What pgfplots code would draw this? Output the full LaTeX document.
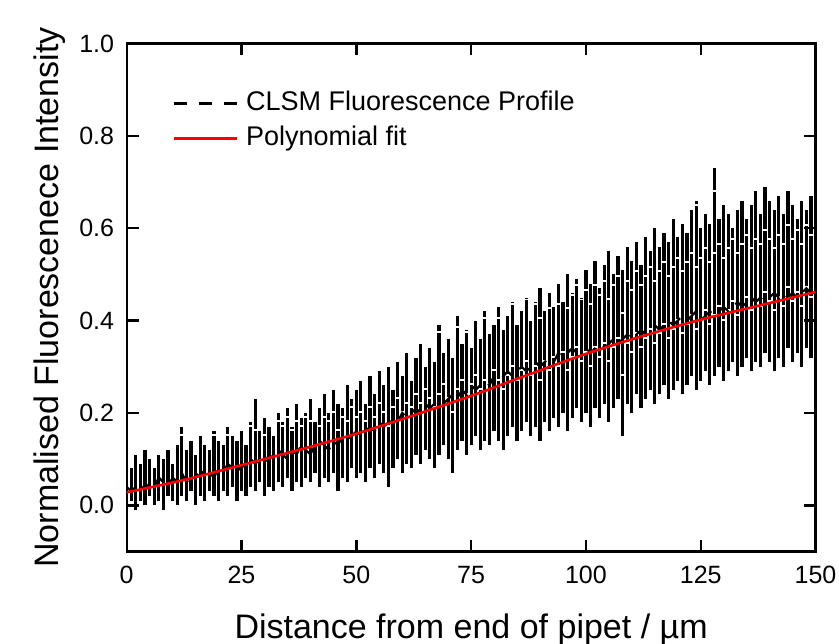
\documentclass[border=0pt]{standalone}
\usepackage{pgfplots}
\usepackage{pgfplotstable}
\pgfplotsset{compat=1.18}
\usepackage{fontspec}
\setmainfont{Liberation Sans}
\pgfplotstableread{
x L m H
0 0.00 0.04 0.10
1 0.01 0.03 0.08
2 -0.01 0.04 0.11
3 0.01 0.05 0.09
4 0.00 0.03 0.12
5 0.02 0.05 0.10
6 0.00 0.04 0.08
7 0.01 0.06 0.11
8 -0.01 0.05 0.10
9 0.02 0.04 0.12
10 0.01 0.06 0.09
11 0.00 0.05 0.13
12 0.02 0.07 0.17
13 0.01 0.05 0.12
14 0.03 0.06 0.14
15 0.00 0.07 0.11
16 0.02 0.06 0.15
17 0.01 0.08 0.13
18 0.03 0.07 0.12
19 0.02 0.06 0.16
20 0.01 0.08 0.14
21 0.03 0.07 0.13
22 0.02 0.09 0.17
23 0.04 0.08 0.15
24 0.01 0.07 0.14
25 0.03 0.09 0.16
26 0.02 0.08 0.13
27 0.04 0.10 0.18
28 0.03 0.09 0.23
29 0.05 0.10 0.16
30 0.02 0.09 0.19
31 0.04 0.11 0.17
32 0.03 0.10 0.15
33 0.05 0.12 0.20
34 0.04 0.11 0.18
35 0.06 0.10 0.21
36 0.03 0.12 0.17
37 0.05 0.11 0.22
38 0.04 0.13 0.19
39 0.06 0.12 0.20
40 0.05 0.11 0.23
41 0.07 0.13 0.18
42 0.04 0.14 0.21
43 0.06 0.13 0.24
44 0.05 0.12 0.20
45 0.07 0.14 0.25
46 0.03 0.13 0.22
47 0.06 0.15 0.21
48 0.05 0.14 0.26
49 0.08 0.15 0.23
50 0.06 0.16 0.25
51 0.07 0.15 0.27
52 0.05 0.16 0.22
53 0.08 0.17 0.28
54 0.06 0.16 0.24
55 0.09 0.18 0.29
56 0.07 0.17 0.26
57 0.04 0.18 0.30
58 0.08 0.19 0.25
59 0.10 0.18 0.31
60 0.07 0.20 0.28
61 0.09 0.19 0.33
62 0.08 0.20 0.27
63 0.11 0.21 0.32
64 0.09 0.20 0.35
65 0.12 0.22 0.30
66 0.10 0.21 0.34
67 0.08 0.22 0.31
68 0.11 0.23 0.39
69 0.13 0.22 0.33
70 0.10 0.23 0.36
71 0.07 0.24 0.32
72 0.12 0.23 0.41
73 0.14 0.25 0.35
74 0.11 0.24 0.38
75 0.13 0.26 0.34
76 0.15 0.25 0.40
77 0.12 0.26 0.36
78 0.14 0.27 0.42
79 0.13 0.26 0.37
80 0.16 0.28 0.39
81 0.14 0.27 0.43
82 0.12 0.28 0.38
83 0.15 0.29 0.41
84 0.17 0.28 0.44
85 0.14 0.29 0.39
86 0.16 0.30 0.42
87 0.18 0.29 0.45
88 0.15 0.30 0.40
89 0.17 0.31 0.44
90 0.14 0.30 0.47
91 0.18 0.31 0.42
92 0.16 0.32 0.46
93 0.19 0.31 0.43
94 0.17 0.33 0.48
95 0.20 0.32 0.44
96 0.16 0.33 0.50
97 0.19 0.34 0.46
98 0.21 0.33 0.49
99 0.18 0.34 0.45
100 0.20 0.34 0.51
101 0.17 0.33 0.48
102 0.21 0.34 0.53
103 0.19 0.35 0.47
104 0.22 0.34 0.52
105 0.18 0.35 0.55
106 0.21 0.36 0.50
107 0.23 0.35 0.54
108 0.15 0.36 0.51
109 0.22 0.37 0.56
110 0.20 0.36 0.53
111 0.24 0.37 0.57
112 0.21 0.38 0.52
113 0.23 0.37 0.58
114 0.25 0.38 0.55
115 0.22 0.39 0.60
116 0.24 0.38 0.56
117 0.26 0.39 0.59
118 0.23 0.40 0.57
119 0.25 0.39 0.62
120 0.27 0.40 0.58
121 0.24 0.41 0.61
122 0.26 0.40 0.59
123 0.28 0.41 0.64
124 0.25 0.42 0.66
125 0.27 0.40 0.60
126 0.29 0.41 0.63
127 0.26 0.42 0.61
128 0.28 0.41 0.73
129 0.30 0.42 0.62
130 0.27 0.43 0.65
131 0.29 0.42 0.63
132 0.31 0.43 0.60
133 0.28 0.44 0.64
134 0.30 0.43 0.66
135 0.32 0.44 0.62
136 0.29 0.45 0.65
137 0.31 0.44 0.68
138 0.30 0.45 0.63
139 0.33 0.44 0.69
140 0.31 0.45 0.66
141 0.29 0.46 0.64
142 0.32 0.45 0.67
143 0.30 0.46 0.63
144 0.34 0.45 0.68
145 0.31 0.46 0.65
146 0.33 0.45 0.62
147 0.30 0.46 0.66
148 0.34 0.47 0.64
149 0.32 0.46 0.67
150 0.31 0.45 0.63
}\profile
\begin{document}
\begin{tikzpicture}
\begin{axis}[
  scale only axis,
  width=344.4pt, height=254pt,
  xmin=0, xmax=150, ymin=-0.1, ymax=1.0,
  xtick={0,25,50,75,100,125,150},
  ytick={0,0.2,0.4,0.6,0.8,1.0},
  /pgf/number format/assume math mode=true,
  yticklabel style={/pgf/number format/fixed, /pgf/number format/fixed zerofill, /pgf/number format/precision=1, xshift=-2.8pt},
  tick align=inside,
  major tick length=6pt,
  minor tick num=0,
  axis line style={line width=1.2pt},
  every tick/.style={black, line width=1.2pt},
  tick label style={font=\fontsize{12.5}{15}\selectfont},
  xticklabel style={yshift=-3.8pt},
  xlabel={Distance from end of pipet / µm},
  ylabel={Normalised Fluorescenece Intensity},
  every axis x label/.style={at={(axis description cs:0.5,-0.1703)}, anchor=base, font=\fontsize{17}{20}\selectfont},
  every axis y label/.style={at={(axis description cs:-0.0983,0.5)}, rotate=90, anchor=base, font=\fontsize{17}{20}\selectfont},
  legend style={draw=none, fill=none, at={(axis description cs:0.0653,0.9073)}, anchor=north west,
    font=\fontsize{13.5}{16}\selectfont, inner sep=0pt, column sep=3.85pt, row sep=4.25pt,
    nodes={inner sep=0pt, text height=10pt, text depth=3pt}},
  legend cell align=left,
]
\addplot[draw=none, mark=none,
  error bars/.cd, y dir=plus, y explicit, error mark=none,
  error bar style={draw=black, line width=1.6pt, dash pattern=on 30pt off 1pt},
  /pgfplots/legend image code/.code={\draw[black, line width=1.5pt, dash pattern=on 6.5pt off 6pt] (0pt,0pt) -- (31.7pt,0pt);}]
  table[x=x, y=L, y error expr=\thisrow{H}-\thisrow{L}] {\profile};
\addlegendentry{CLSM Fluorescence Profile}
\addplot[black, line width=1.1pt, dash pattern=on 7pt off 5pt, forget plot]
  table[x=x, y=m] {\profile};
\addplot[red, line width=1.3pt, smooth,
  legend image code/.code={\draw[red, line width=1.3pt] (0pt,0pt) -- (31.7pt,0pt);}]
coordinates {
(0,0.028) (12.5,0.055) (25,0.087) (37.5,0.120) (50,0.155) (62.5,0.195) (75,0.237)
(87.5,0.283) (100,0.328) (112.5,0.367) (125,0.402) (137.5,0.432) (150,0.462)
};
\addlegendentry{Polynomial fit}
\end{axis}
\pgfresetboundingbox
\path[use as bounding box] ([xshift=-63.35pt,yshift=-45.75pt]current axis.south west) rectangle ([xshift=11.75pt,yshift=21.75pt]current axis.north east);
\end{tikzpicture}
\end{document}
